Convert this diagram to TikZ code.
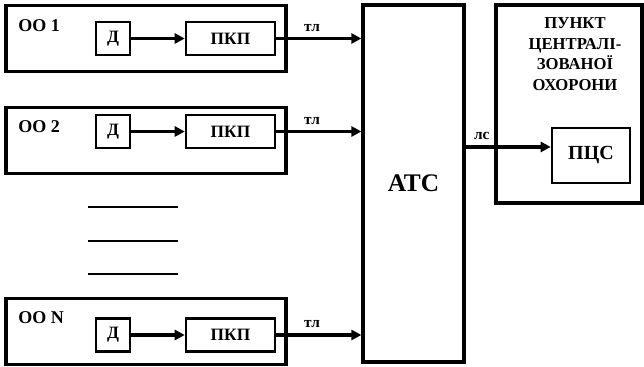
\documentclass[tikz,border=0pt]{standalone}
\usepackage{fontspec}
\setmainfont{Liberation Serif}
\usetikzlibrary{positioning,arrows.meta}

\begin{document}
\begin{tikzpicture}[
  x=0.75pt, y=-0.75pt,
  obj/.style={rectangle, draw=black, line width=2.4pt,
              minimum width=210pt, minimum height=50pt, inner sep=0pt},
  dev/.style={rectangle, draw=black, line width=1.9pt,
              minimum height=24.75pt, inner sep=0pt,
              font=\fontsize{13}{15}\selectfont\bfseries},
  tag/.style={anchor=west, inner sep=0pt,
              font=\fontsize{13.5}{15}\selectfont\bfseries},
  arr/.style={-{Triangle[length=7.5pt,width=7.5pt]}, line width=2.4pt},
  lbl/.style={inner sep=1pt, font=\fontsize{11.5}{13}\selectfont\bfseries},
  sepline/.style={line width=1.9pt},
]

\useasboundingbox (0,0) rectangle (644,367);

% Object 1
\node[obj] (oo1) at (146,38.5) {};
\node[tag] (oo1_name) at (18,26) {ОО 1};
\node[dev, minimum width=25.5pt] (d1) at (113,38.5) {Д};
\node[dev, minimum width=66.75pt] (pkp1) at (230.5,38.5) {ПКП};

% Object 2
\node[obj] (oo2) at (146,140.5) {};
\node[tag] (oo2_name) at (18,127) {ОО 2};
\node[dev, minimum width=25.5pt] (d2) at (113,131.5) {Д};
\node[dev, minimum width=66.75pt] (pkp2) at (230.5,131.5) {ПКП};

% Object N
\node[obj] (ooN) at (146,331.5) {};
\node[tag] (ooN_name) at (18,318) {ОО N};
\node[dev, minimum width=25.5pt] (dN) at (113,335) {Д};
\node[dev, minimum width=66.75pt] (pkpN) at (230.5,335) {ПКП};

% Gap between objects
\draw[sepline] (88,207) -- (178,207);
\draw[sepline] (88,241) -- (178,241);
\draw[sepline] (88,274) -- (178,274);

% Exchange
\node[obj, minimum width=75.75pt, minimum height=267.75pt,
      font=\fontsize{19}{22}\selectfont\bfseries] (atc) at (413.5,183.5) {АТС};

% Central monitoring point
\node[obj, minimum width=109.5pt, minimum height=148.5pt] (pco) at (569,104) {};
\node[align=center, inner sep=0pt,
      font=\fontsize{12.5}{15.5}\selectfont\bfseries] (pco_title) at (575,54)
      {ПУНКТ\\ЦЕНТРАЛІ-\\ЗОВАНОЇ\\ОХОРОНИ};
\node[dev, minimum width=58.5pt, minimum height=41.25pt,
      font=\fontsize{15}{18}\selectfont\bfseries] (pcs) at (591,155.5) {ПЦС};
\coordinate (pcs_in) at ([yshift=6.4pt]pcs.west);

% Arrows inside objects
\draw[arr] (d1) -- (pkp1);
\draw[arr] (d2) -- (pkp2);
\draw[arr] (dN) -- (pkpN);

% Lines to exchange
\draw[arr] (pkp1.east) -- node[lbl, above=3pt, pos=0.42] {тл} (pkp1.east -| atc.west);
\draw[arr] (pkp2.east) -- node[lbl, above=3pt, pos=0.42] {тл} (pkp2.east -| atc.west);
\draw[arr] (pkpN.east) -- node[lbl, above=3pt, pos=0.42] {тл} (pkpN.east -| atc.west);

% Line to monitoring point
\draw[arr] (atc.east |- pcs_in) -- node[lbl, above=3pt, pos=0.19] {лс} (pcs_in);

\end{tikzpicture}
\end{document}
